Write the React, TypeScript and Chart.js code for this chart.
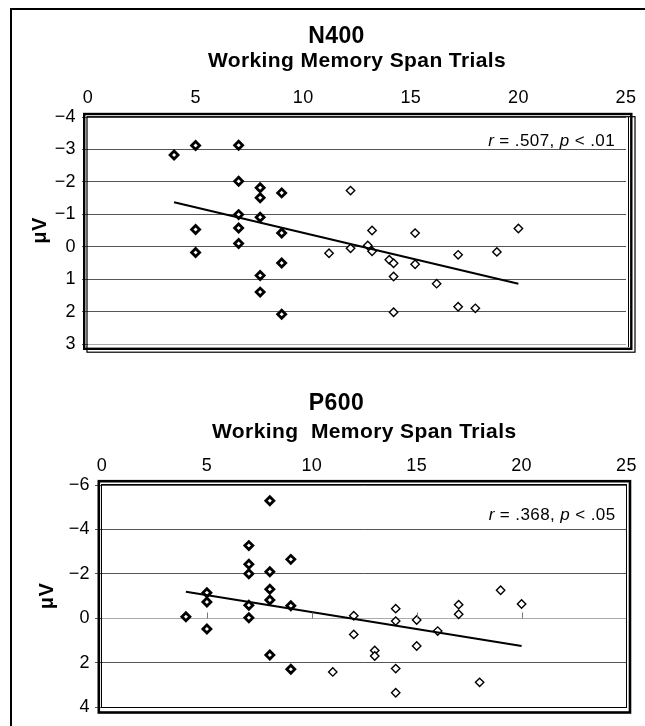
import React, { useEffect, useRef } from 'react';
import { Chart, registerables } from 'chart.js';

Chart.register(...registerables);

// ---------------- Data ----------------
const X_TICKS = [0, 5, 10, 15, 20, 25];

const N400_Y_TICKS = [-4, -3, -2, -1, 0, 1, 2, 3];
// low-span group (bold markers)
const N400_LOW_X = [4, 5, 5, 5, 7, 7, 7, 7, 7, 8, 8, 8, 8, 8, 9, 9, 9, 9];
const N400_LOW_Y = [-2.83, -3.12, -0.53, 0.18, -3.13, -2.02, -0.99, -0.58, -0.1, -1.82, -1.51, -0.91, 0.89, 1.4, -1.66, -0.42, 0.5, 2.08];
// high-span group (thin markers)
const N400_HIGH_X = [11.2, 12.2, 12.2, 13.0, 13.2, 13.2, 14.0, 14.2, 14.2, 14.2, 15.2, 15.2, 16.2, 17.2, 17.2, 18.0, 19.0, 20.0];
const N400_HIGH_Y = [0.2, -1.73, 0.05, -0.04, -0.5, 0.14, 0.4, 0.51, 0.92, 2.02, -0.42, 0.54, 1.14, 0.25, 1.85, 1.9, 0.16, -0.56];
const N400_TREND_X = [4, 20];
const N400_TREND_Y = [-1.37, 1.14];

const P600_Y_TICKS = [-6, -4, -2, 0, 2, 4];
const P600_LOW_X = [4, 5, 5, 5, 7, 7, 7, 7, 7, 8, 8, 8, 8, 8, 9, 9, 9];
const P600_LOW_Y = [-0.07, -1.15, -0.73, 0.49, -3.27, -2.43, -2.0, -0.58, -0.02, -5.29, -2.09, -1.3, -0.82, 1.66, -2.65, -0.56, 2.3];
const P600_HIGH_X = [11, 12, 12, 13, 13, 14, 14, 14, 14, 15, 15, 16, 17, 17, 18, 19, 20];
const P600_HIGH_Y = [2.42, -0.11, 0.73, 1.45, 1.7, -0.43, 0.13, 2.27, 3.36, 0.08, 1.25, 0.58, -0.61, -0.18, 2.89, -1.26, -0.64];
const P600_TREND_X = [4, 20];
const P600_TREND_Y = [-1.19, 1.25];

const ZERO_LINE_TICKS = [5, 10, 15, 20];

// ---------------- Panels ----------------
const FONT = '"Liberation Sans", Arial, Helvetica, sans-serif';

type Panel = {
  title: string;
  xTitle: string;
  yTitle: string;
  lowX: number[]; lowY: number[];
  highX: number[]; highY: number[];
  trendX: number[]; trendY: number[];
  yTicks: number[];
  statR: string; statRest1: string; statP: string; statRest2: string;
  lightGrid: number[];
  width: number; height: number;
  area: { left: number; top: number; right: number; bottom: number };
  titleX: number; titleY: number;
  xTitlePad: number; xTickPad: number;
  yTickLen: number; yTickPad: number; yTitlePad: number;
  statRight: number; statY: number;
  thick: number[]; thin: number[];
  innerRight: number | null;
  zeroTicks: boolean;
};

const N400_PANEL: Panel = {
  title: 'N400',
  xTitle: 'Working Memory Span Trials',
  yTitle: 'μV',
  lowX: N400_LOW_X, lowY: N400_LOW_Y,
  highX: N400_HIGH_X, highY: N400_HIGH_Y,
  trendX: N400_TREND_X, trendY: N400_TREND_Y,
  yTicks: N400_Y_TICKS,
  statR: 'r', statRest1: ' = .507, ', statP: 'p', statRest2: ' < .01',
  lightGrid: [3],
  width: 633, height: 360,
  area: { left: 76, top: 107, right: 614, bottom: 334 },
  titleX: 324.5, titleY: 27,
  xTitlePad: 38.5, xTickPad: 8.5,
  yTickLen: 6, yTickPad: 6, yTitlePad: 16,
  statRight: -11, statY: 24,
  thick: [-3.8, -3, 5.3, 4.8, 2.4],
  thin: [-1, -0.3, 9, 8.2, 1.2],
  innerRight: 2,
  zeroTicks: false,
};

const P600_PANEL: Panel = {
  title: 'P600',
  xTitle: 'Working  Memory Span Trials',
  yTitle: 'μV',
  lowX: P600_LOW_X, lowY: P600_LOW_Y,
  highX: P600_HIGH_X, highY: P600_HIGH_Y,
  trendX: P600_TREND_X, trendY: P600_TREND_Y,
  yTicks: P600_Y_TICKS,
  statR: 'r', statRest1: ' = .368, ', statP: 'p', statRest2: ' < .05',
  lightGrid: [0, 4],
  width: 633, height: 356,
  area: { left: 90, top: 115, right: 616, bottom: 337 },
  titleX: 324.5, titleY: 34,
  xTitlePad: 50, xTickPad: 8.5,
  yTickLen: 7, yTickPad: 5, yTitlePad: 23,
  statRight: -11, statY: 30,
  thick: [-3.2, -3.8, 3.5, 5.5, 2.6],
  thin: [-0.5, -0.5, 0, 0.5, 1],
  innerRight: null,
  zeroTicks: true,
};

const toXY = (xs: number[], ys: number[]) => xs.map((x, i) => ({ x, y: ys[i] }));
const fmtTick = (v: number) => (v < 0 ? '\u2212' + Math.abs(v) : String(v));

function buildChart(canvas: HTMLCanvasElement, p: Panel) {
  const area = p.area;
  const decor = {
    id: 'panelDecor',
    beforeDraw(chart: any) {
      chart.ctx.letterSpacing = '0.4px';
    },
    afterDraw(chart: any) {
      const ctx: CanvasRenderingContext2D = chart.ctx;
      const ca = chart.chartArea;
      ctx.save();

      // zero-line tick marks
      if (p.zeroTicks) {
        const xs = chart.scales.x;
        const y0 = Math.round(chart.scales.y.getPixelForValue(0)) + 0.5;
        ctx.strokeStyle = '#777';
        ctx.lineWidth = 1;
        ctx.beginPath();
        ZERO_LINE_TICKS.forEach((v) => {
          const px = Math.round(xs.getPixelForValue(v)) + 0.5;
          ctx.moveTo(px, y0 - 6);
          ctx.lineTo(px, y0);
        });
        ctx.stroke();
      }

      // frames
      const rect = (o: number[]) => {
        ctx.lineWidth = o[4];
        ctx.strokeStyle = '#000';
        const l = ca.left + o[0];
        const t = ca.top + o[1];
        const r = ca.right + o[2];
        const b = ca.bottom + o[3];
        ctx.strokeRect(l, t, r - l, b - t);
      };
      rect(p.thin);
      rect(p.thick);
      if (p.innerRight !== null) {
        ctx.lineWidth = 1;
        ctx.beginPath();
        ctx.moveTo(ca.right + p.innerRight + 0.5, ca.top);
        ctx.lineTo(ca.right + p.innerRight + 0.5, ca.bottom + 3);
        ctx.stroke();
      }

      // main title
      ctx.fillStyle = '#000';
      ctx.font = `bold 23px ${FONT}`;
      ctx.textAlign = 'center';
      ctx.textBaseline = 'middle';
      ctx.fillText(p.title, p.titleX, p.titleY);

      // statistics annotation
      const reg = `17px ${FONT}`;
      const ita = `italic 17px ${FONT}`;
      const parts: [string, string][] = [
        [p.statR, ita],
        [p.statRest1, reg],
        [p.statP, ita],
        [p.statRest2, reg],
      ];
      let total = 0;
      parts.forEach(([t, f]) => {
        ctx.font = f;
        total += ctx.measureText(t).width;
      });
      let x = ca.right + p.statRight - total;
      const y = ca.top + p.statY;
      ctx.textAlign = 'left';
      parts.forEach(([t, f]) => {
        ctx.font = f;
        ctx.fillText(t, x, y);
        x += ctx.measureText(t).width;
      });

      ctx.restore();
    },
  };

  return new Chart(canvas, {
    type: 'scatter',
    data: {
      datasets: [
        {
          label: 'trend',
          data: toXY(p.trendX, p.trendY),
          showLine: true,
          borderColor: '#000',
          borderWidth: 2,
          pointRadius: 0,
          fill: false,
        } as any,
        {
          label: 'low span',
          data: toXY(p.lowX, p.lowY),
          pointStyle: 'rectRot',
          pointRadius: 4,
          pointBorderWidth: 2.8,
          pointBorderColor: '#000',
          pointBackgroundColor: '#fff',
          borderColor: '#000',
          backgroundColor: '#fff',
        },
        {
          label: 'high span',
          data: toXY(p.highX, p.highY),
          pointStyle: 'rectRot',
          pointRadius: 4.2,
          pointBorderWidth: 1.4,
          pointBorderColor: '#000',
          pointBackgroundColor: '#fff',
          borderColor: '#000',
          backgroundColor: '#fff',
        },
      ],
    },
    options: {
      responsive: false,
      animation: false,
      events: [],
      layout: {
        autoPadding: false,
        padding: { left: 0, top: 0, right: p.width - area.right, bottom: p.height - area.bottom },
      },
      plugins: {
        legend: { display: false },
        tooltip: { enabled: false },
        title: { display: false },
      },
      scales: {
        x: {
          type: 'linear',
          position: 'top',
          min: X_TICKS[0],
          max: X_TICKS[X_TICKS.length - 1],
          afterBuildTicks: (s: any) => {
            s.ticks = X_TICKS.map((v) => ({ value: v }));
          },
          afterFit: (s: any) => {
            s.height = area.top;
          },
          grid: { display: false, drawTicks: false },
          border: { display: false },
          ticks: {
            padding: p.xTickPad,
            font: { family: FONT, size: 18 },
            color: '#000',
            maxRotation: 0,
            autoSkip: false,
          },
          title: {
            display: true,
            text: p.xTitle,
            font: { family: FONT, size: 21, weight: 'bold' },
            color: '#000',
            padding: { top: p.xTitlePad, bottom: 0 },
          },
        },
        y: {
          type: 'linear',
          reverse: true,
          min: p.yTicks[0],
          max: p.yTicks[p.yTicks.length - 1],
          afterBuildTicks: (s: any) => {
            s.ticks = p.yTicks.map((v) => ({ value: v }));
          },
          afterFit: (s: any) => {
            s.width = area.left;
          },
          grid: {
            color: (c: any) => (c.tick && p.lightGrid.includes(c.tick.value) ? '#aaa' : '#555'),
            lineWidth: 1,
            drawTicks: true,
            tickLength: p.yTickLen,
            tickColor: '#555',
          },
          border: { display: false },
          ticks: {
            padding: p.yTickPad,
            font: { family: FONT, size: 18 },
            color: '#000',
            autoSkip: false,
            callback: (v: any) => fmtTick(Number(v)),
          },
          title: {
            display: true,
            text: p.yTitle,
            font: { family: FONT, size: 20, weight: 'bold' },
            color: '#000',
            padding: { top: p.yTitlePad, bottom: 0 },
          },
        },
      },
    } as any,
    plugins: [decor],
  });
}

export default function App() {
  const r1 = useRef<HTMLCanvasElement>(null);
  const r2 = useRef<HTMLCanvasElement>(null);

  useEffect(() => {
    const c1 = buildChart(r1.current as HTMLCanvasElement, N400_PANEL);
    const c2 = buildChart(r2.current as HTMLCanvasElement, P600_PANEL);
    return () => {
      c1.destroy();
      c2.destroy();
    };
  }, []);

  return (
    <div
      style={{
        position: 'fixed',
        left: 10,
        top: 8,
        width: 660,
        height: 740,
        borderLeft: '2px solid #000',
        borderTop: '2px solid #000',
        boxSizing: 'border-box',
        background: '#fff',
      }}
    >
      <canvas
        ref={r1}
        width={N400_PANEL.width}
        height={N400_PANEL.height}
        style={{ display: 'block', width: N400_PANEL.width, height: N400_PANEL.height }}
      />
      <canvas
        ref={r2}
        width={P600_PANEL.width}
        height={P600_PANEL.height}
        style={{ display: 'block', width: P600_PANEL.width, height: P600_PANEL.height }}
      />
    </div>
  );
}
